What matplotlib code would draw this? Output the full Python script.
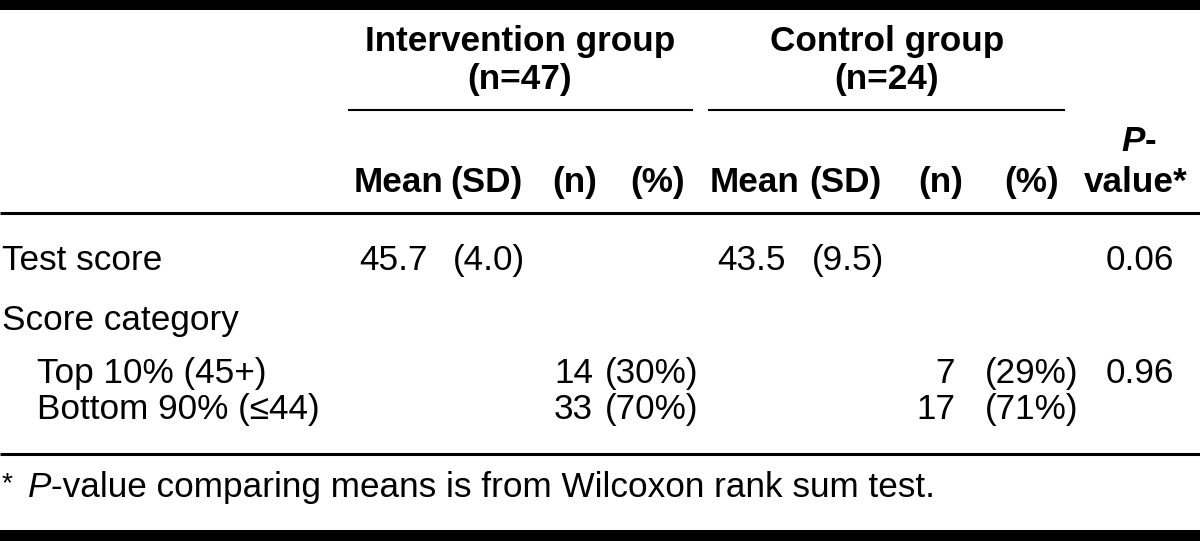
import matplotlib
matplotlib.use("Agg")
import matplotlib.pyplot as plt

# ---------------- data ----------------
group_names = ["Intervention group", "Control group"]
group_sizes = [47, 24]
sub_headers = ["Mean", "(SD)", "(n)", "(%)"]
row_labels = ["Test score", "Score category", "Top 10% (45+)", "Bottom 90% (\u226444)"]
int_mean = [45.7]
int_sd = [4.0]
ctrl_mean = [43.5]
ctrl_sd = [9.5]
int_n = [14, 33]
int_pct = [30, 70]
ctrl_n = [7, 17]
ctrl_pct = [29, 71]
p_values = ["0.06", "0.96"]
footnote = "-value comparing means is from Wilcoxon rank sum test."

# ---------------- layout ----------------
W, H = 1200, 541
FS = 25.3
FAM = ["Liberation Sans", "DejaVu Sans"]
plt.rcParams["font.family"] = FAM

fig = plt.figure(figsize=(W / 100, H / 100), dpi=100)
ax = fig.add_axes([0, 0, 1, 1])
ax.set_xlim(0, W)
ax.set_ylim(H, 0)
ax.axis("off")


def t(x, y, s, ha="left", weight="normal", style="normal", size=FS):
    return ax.text(x, y, s, ha=ha, va="baseline", fontsize=size,
                   fontweight=weight, fontstyle=style, color="black")


# rules
ax.axhspan(0, 10, color="black", lw=0)
ax.axhspan(530, H, color="black", lw=0)
ax.hlines(110, 348, 693, color="black", lw=1.5)
ax.hlines(110, 708, 1065, color="black", lw=1.5)
ax.hlines(213, 0, W, color="black", lw=2.2)
ax.hlines(454, 0, W, color="black", lw=2.2)

# group headers
group_centers = [520, 887]
for cx, name, n in zip(group_centers, group_names, group_sizes):
    t(cx, 51, name, ha="center", weight="bold")
    t(cx, 89, f"(n={n})", ha="center", weight="bold")

# sub headers
sub_x = [[399, 486, 575, 658], [755, 845, 941, 1032]]
for xs in sub_x:
    for x, s in zip(xs, sub_headers):
        t(x, 192, s, ha="center", weight="bold")

# P-value header
fig.canvas.draw()
r = fig.canvas.get_renderer()
pc = 1139
tp = t(0, 151, "P", weight="bold", style="italic")
td = t(0, 151, "-", weight="bold")
wp = tp.get_window_extent(r).width
wd = td.get_window_extent(r).width
x0 = pc - (wp + wd) / 2
tp.set_x(x0)
td.set_x(x0 + wp)
t(1136, 192, "value*", ha="center", weight="bold")

# row labels
label_y = [270, 330, 383, 419]
label_x = [2, 2, 37, 37]
for x, y, s in zip(label_x, label_y, row_labels):
    t(x, y, s)

# means / SD
t(394, 270, f"{int_mean[0]:.1f}", ha="center")
t(489, 270, f"({int_sd[0]:.1f})", ha="center")
t(752, 270, f"{ctrl_mean[0]:.1f}", ha="center")
t(848, 270, f"({ctrl_sd[0]:.1f})", ha="center")
t(1140, 270, p_values[0], ha="center")

# categories
cat_y = [383, 419]
for y, a, b, c, d in zip(cat_y, int_n, int_pct, ctrl_n, ctrl_pct):
    t(593, y, f"{a}", ha="right")
    t(605, y, f"({b}%)")
    t(955, y, f"{c}", ha="right")
    t(985, y, f"({d}%)")
t(1140, cat_y[0], p_values[1], ha="center")

# footnote
ts = t(2, 491, "*", size=FS * 0.8)
tpi = t(28, 497, "P", style="italic")
wpi = tpi.get_window_extent(r).width
t(28 + wpi, 497, footnote)

fig.savefig("out.png", dpi=100, facecolor="white")
